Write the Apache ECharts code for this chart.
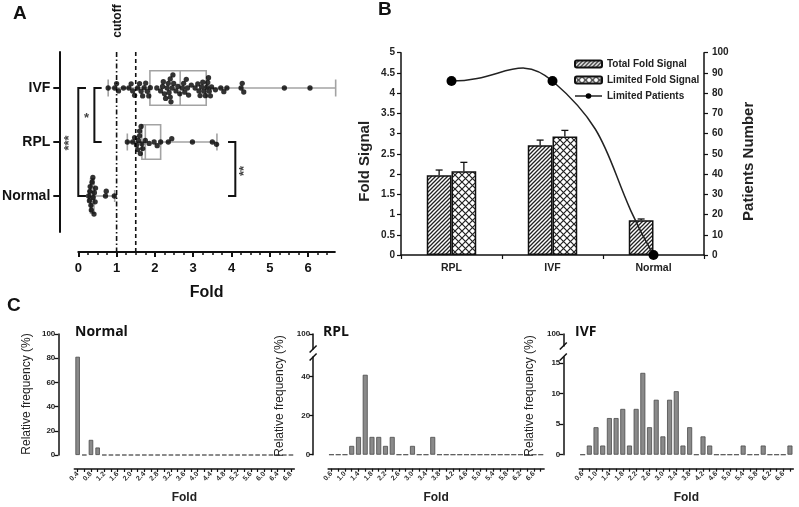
<!DOCTYPE html>
<html><head><meta charset="utf-8">
<script src="https://cdn.jsdelivr.net/npm/echarts@6/dist/echarts.min.js"></script>
<style>html,body{margin:0;padding:0;background:#fff}#c{width:799px;height:507px}</style>
</head><body><div id="c"></div>
<script>
// ---------- Panel A data ----------
const groupsA = ['Normal', 'RPL', 'IVF'];
const ivfFold = [0.78, 0.95, 1.0, 1.05, 1.18, 1.32, 1.38, 1.42, 1.47, 1.55, 1.6, 1.64, 1.68,
  1.72, 1.76, 1.8, 1.84, 1.88, 2.05, 2.15, 2.2, 2.22, 2.25, 2.28,
  2.32, 2.35, 2.37, 2.4, 2.4, 2.42, 2.45, 2.47, 2.49, 2.55, 2.6, 2.65,
  2.72, 2.75, 2.78, 2.82, 2.85, 2.88, 2.95, 3.05, 3.12, 3.15, 3.18, 3.22, 3.25, 3.28,
  3.32, 3.35, 3.38, 3.4, 3.42, 3.45, 3.48, 3.58, 3.72, 3.8, 3.88, 4.25, 4.28, 4.32,
  5.38, 6.05, 6.72];
const rplFold = [1.28, 1.42, 1.47, 1.52, 1.55, 1.57, 1.6, 1.6, 1.62, 1.64, 1.66, 1.68,
  1.75, 1.85, 1.98, 2.06, 2.15, 2.35, 2.44, 2.98, 3.5, 3.61];
const normalFold = [0.27, 0.29, 0.3, 0.31, 0.33, 0.34, 0.36, 0.38, 0.39, 0.41, 0.42, 0.44, 0.45,
  0.71, 0.73, 0.94];
// box statistics: [min, Q1, median, Q3, max]
const ivfBox = [0.78, 1.87, 2.66, 3.34, 6.72];
const rplBox = [1.28, 1.66, 1.75, 2.15, 3.62];
const normalBox = [0.27, 0.32, 0.36, 0.41, 0.95];
const foldTicksA = [0, 1, 2, 3, 4, 5, 6];
const cutoffValues = [1, 1.5];

// ---------- Panel B data ----------
const groupsB = ['RPL', 'IVF', 'Normal'];
const totalFold = [1.97, 2.71, 0.86];
const totalErr = [0.13, 0.13, 0.03];
const limitedFold = [2.07, 2.93, null];
const limitedErr = [0.22, 0.15, null];
const limitedPatients = [86, 86, 0];

// ---------- Panel C data ----------
const binsNormal = ['0.4','0.6','0.8','1.0','1.2','1.4','1.6','1.8','2.0','2.2','2.4','2.6','2.8','3.0','3.2','3.4','3.6','3.8','4.0','4.2','4.4','4.6','4.8','5.0','5.2','5.4','5.6','5.8','6.0','6.2','6.4','6.6','6.8'];
const binsRplIvf = ['0.6','0.8','1.0','1.2','1.4','1.6','1.8','2.0','2.2','2.4','2.6','2.8','3.0','3.2','3.4','3.6','3.8','4.0','4.2','4.4','4.6','4.8','5.0','5.2','5.4','5.6','5.8','6.0','6.2','6.4','6.6','6.8'];
const freqNormal = [81.2, 0, 12.5, 6.2, 0, 0, 0, 0, 0, 0, 0, 0, 0, 0, 0, 0, 0, 0, 0, 0, 0, 0, 0, 0, 0, 0, 0, 0, 0, 0, 0, 0, 0];
const freqRpl = [0, 0, 0, 4.5, 9.1, 40.9, 9.1, 9.1, 4.5, 9.1, 0, 0, 4.5, 0, 0, 9.1, 0, 0, 0, 0, 0, 0, 0, 0, 0, 0, 0, 0, 0, 0, 0, 0];
const freqIvf = [0, 1.5, 4.5, 1.5, 6.0, 6.0, 7.5, 1.5, 7.5, 13.4, 4.5, 9.0, 3.0, 9.0, 10.4, 1.5, 4.5, 0, 3.0, 1.5, 0, 0, 0, 0, 1.5, 0, 0, 1.5, 0, 0, 0, 1.5];

// ---------- helpers ----------
const FONT = '"Liberation Sans", Arial, sans-serif';
const INK = '#111';

function hatchPattern() {
  const s = 4, c = document.createElement('canvas');
  c.width = s; c.height = s;
  const g = c.getContext('2d');
  g.fillStyle = '#fff'; g.fillRect(0, 0, s, s);
  g.strokeStyle = '#222'; g.lineWidth = 1.3;
  g.beginPath();
  g.moveTo(-1, 1); g.lineTo(1, -1);
  g.moveTo(0, s); g.lineTo(s, 0);
  g.moveTo(s - 1, s + 1); g.lineTo(s + 1, s - 1);
  g.stroke();
  return c;
}
function crossPattern() {
  const s = 7, c = document.createElement('canvas');
  c.width = s; c.height = s;
  const g = c.getContext('2d');
  g.fillStyle = '#fff'; g.fillRect(0, 0, s, s);
  g.strokeStyle = '#222'; g.lineWidth = 1.2;
  g.beginPath();
  g.moveTo(0, 0); g.lineTo(s, s);
  g.moveTo(0, s); g.lineTo(s, 0);
  g.stroke();
  return c;
}

function cY(grid, min, max, ticks, offset) {
  return {type: 'value', gridIndex: grid, min: min, max: max, offset: offset, position: 'left',
    axisLine: {show: true, onZero: false, lineStyle: {color: INK, width: 1.5}},
    axisTick: {show: true, length: 4, customValues: ticks, lineStyle: {color: INK, width: 1.3}},
    axisLabel: {customValues: ticks, fontSize: 8, fontWeight: 'bold', color: '#222', margin: 3, fontFamily: FONT},
    splitLine: {show: false}};
}
function cX(grid, cats) {
  return {type: 'category', gridIndex: grid, data: cats, position: 'bottom', offset: 14,
    axisLine: {show: true, onZero: false, lineStyle: {color: INK, width: 1.5}},
    axisTick: {show: true, interval: 0, alignWithLabel: true, length: 3, lineStyle: {color: INK, width: 1.2}},
    axisLabel: {interval: 1, rotate: 45, fontSize: 7, fontWeight: 'bold', color: '#333', margin: 4, fontFamily: FONT},
    name: 'Fold', nameLocation: 'middle', nameGap: 23, nameMoveOverlap: false,
    nameTextStyle: {fontSize: 12, fontWeight: 'bold', color: '#222', fontFamily: FONT}};
}
function hiddenX(grid, cats) {
  return {type: 'category', gridIndex: grid, data: cats, show: false};
}
function txt(x, y, text, font, opts) {
  opts = opts || {};
  return {type: 'text', x: x, y: y, rotation: opts.rot || 0, z: 50,
    style: {text: text, font: font, fill: opts.fill || INK,
      textAlign: opts.align || 'center', align: opts.align || 'center',
      textVerticalAlign: 'middle', verticalAlign: 'middle'}};
}
function brk(x, y) {
  return {type: 'line', z: 50, shape: {x1: x - 3.5, y1: y + 3.5, x2: x + 3.5, y2: y - 3.5},
    style: {stroke: INK, lineWidth: 1.5}};
}

const chart = echarts.init(document.getElementById('c'));

const boxData = [[2].concat(ivfBox), [1].concat(rplBox), [0].concat(normalBox)];
const errData = [];
totalFold.forEach((v, i) => { if (v != null) errData.push([i, v, totalErr[i], -1]); });
limitedFold.forEach((v, i) => { if (v != null) errData.push([i, v, limitedErr[i], 1]); });

const SMOOTH = 0.5;

const option = {
  animation: false,
  backgroundColor: '#fff',
  textStyle: {fontFamily: FONT},
  grid: [
    {left: 78.3, top: 52, width: 256.6, height: 180, outerBoundsMode: 'none'},
    {left: 401, top: 52.7, width: 303, height: 202.3, outerBoundsMode: 'none'},
    {left: 74.3, top: 334, width: 220, height: 121, outerBoundsMode: 'none'},
    {left: 328.1, top: 357, width: 216, height: 97.7, outerBoundsMode: 'none'},
    {left: 328.1, top: 334, width: 216, height: 15, outerBoundsMode: 'none'},
    {left: 579.3, top: 357, width: 214, height: 97.7, outerBoundsMode: 'none'},
    {left: 579.3, top: 334, width: 214, height: 12, outerBoundsMode: 'none'}
  ],
  legend: {
    orient: 'vertical', left: 569, top: 54, itemWidth: 27, itemHeight: 7, itemGap: 6,
    selectedMode: false,
    textStyle: {fontSize: 10, fontWeight: 'bold', color: '#222', fontFamily: FONT},
    data: ['Total Fold Signal', 'Limited Fold Signal',
      {name: 'Limited Patients', lineStyle: {color: '#222', width: 1.5, opacity: 1}}]
  },
  xAxis: [
    {type: 'value', gridIndex: 0, min: 0, max: 6.7, interval: 1, position: 'bottom', offset: 20,
      axisLine: {show: true, onZero: false, lineStyle: {color: INK, width: 2}},
      axisTick: {show: true, customValues: foldTicksA, length: 5, lineStyle: {color: INK, width: 2}},
      minorTick: {show: true, splitNumber: 4, length: 3, lineStyle: {color: INK, width: 1.5}},
      axisLabel: {customValues: foldTicksA, fontSize: 13, fontWeight: 'bold', color: INK, margin: 10},
      splitLine: {show: false},
      name: 'Fold', nameLocation: 'middle', nameGap: 33, nameMoveOverlap: false,
      nameTextStyle: {fontSize: 16, fontWeight: 'bold', color: INK}},
    {type: 'value', gridIndex: 0, min: 0, max: 6.7, show: false},
    {type: 'category', gridIndex: 1, data: groupsB,
      axisLine: {show: true, lineStyle: {color: INK, width: 1.5}},
      axisTick: {show: true, length: 4, lineStyle: {color: INK, width: 1.2}},
      axisLabel: {fontSize: 10.5, fontWeight: 'bold', color: '#222', margin: 8}},
    cX(2, binsNormal),
    cX(3, binsRplIvf),
    hiddenX(4, binsRplIvf),
    cX(5, binsRplIvf),
    hiddenX(6, binsRplIvf)
  ],
  yAxis: [
    {type: 'value', gridIndex: 0, min: -2 / 3, max: 8 / 3, position: 'left', offset: 19,
      axisLine: {show: true, onZero: false, lineStyle: {color: INK, width: 2}},
      axisTick: {show: true, customValues: [0, 1, 2], length: 6, lineStyle: {color: INK, width: 2}},
      axisLabel: {customValues: [0, 1, 2], formatter: v => groupsA[Math.round(v)],
        fontSize: 14, fontWeight: 'bold', color: INK, margin: 9},
      splitLine: {show: false}},
    {type: 'value', gridIndex: 1, min: 0, max: 5, interval: 0.5, position: 'left',
      axisLine: {show: true, onZero: false, lineStyle: {color: INK, width: 1.5}},
      axisTick: {show: true, length: 4, lineStyle: {color: INK, width: 1.2}},
      axisLabel: {fontSize: 10, fontWeight: 'bold', color: '#222', margin: 6},
      splitLine: {show: false},
      name: 'Fold Signal', nameLocation: 'middle', nameGap: 29, nameMoveOverlap: false,
      nameTextStyle: {fontSize: 15, fontWeight: 'bold', color: '#222', padding: [0, 15, 0, 0]}},
    {type: 'value', gridIndex: 1, min: 0, max: 100, interval: 10, position: 'right',
      axisLine: {show: true, onZero: false, lineStyle: {color: INK, width: 1.5}},
      axisTick: {show: true, length: 4, lineStyle: {color: INK, width: 1.2}},
      axisLabel: {fontSize: 10, fontWeight: 'bold', color: '#222', margin: 8},
      splitLine: {show: false},
      name: 'Patients Number', nameLocation: 'middle', nameGap: 37, nameMoveOverlap: false,
      nameTextStyle: {fontSize: 15, fontWeight: 'bold', color: '#222', padding: [0, 15, 0, 0]}},
    cY(2, 0, 100, [0, 20, 40, 60, 80, 100], 16),
    cY(3, 0, 50, [0, 20, 40], 15),
    cY(4, 90, 100, [100], 15),
    cY(5, 0, 16, [0, 5, 10, 15], 16),
    cY(6, 90, 100, [100], 16)
  ],
  series: [
    // Panel A: box plots
    {type: 'custom', xAxisIndex: 0, yAxisIndex: 0, z: 2, data: boxData,
      renderItem: function (params, api) {
        const y = api.value(0);
        const p = [1, 2, 3, 4, 5].map(k => api.coord([api.value(k), y]));
        const st = {stroke: '#a3a3a3', lineWidth: 1.6, fill: 'none'};
        const h = 17.3, cap = y === 0 ? 6 : 8.5;
        return {type: 'group', children: [
          {type: 'line', shape: {x1: p[0][0], y1: p[0][1], x2: p[1][0], y2: p[1][1]}, style: st},
          {type: 'line', shape: {x1: p[3][0], y1: p[3][1], x2: p[4][0], y2: p[4][1]}, style: st},
          {type: 'line', shape: {x1: p[0][0], y1: p[0][1] - cap, x2: p[0][0], y2: p[0][1] + cap}, style: st},
          {type: 'line', shape: {x1: p[4][0], y1: p[4][1] - cap, x2: p[4][0], y2: p[4][1] + cap}, style: st},
          {type: 'rect', shape: {x: p[1][0], y: p[1][1] - h, width: p[3][0] - p[1][0], height: 2 * h}, style: st},
          {type: 'line', shape: {x1: p[2][0], y1: p[2][1] - h, x2: p[2][0], y2: p[2][1] + h}, style: st}
        ]};
      }},
    // Panel A: dots (filled after layout)
    {id: 'dots', type: 'scatter', xAxisIndex: 0, yAxisIndex: 0, z: 3, symbolSize: 5.3,
      itemStyle: {color: '#000'}, data: []},
    // Panel A: cutoff lines
    {type: 'custom', xAxisIndex: 0, yAxisIndex: 0, z: 1, data: cutoffValues.map(v => [v, 0]),
      renderItem: function (params, api) {
        const top = api.coord([api.value(0), 8 / 3]);
        const bot = api.coord([api.value(0), -2 / 3]);
        return {type: 'line', shape: {x1: top[0], y1: top[1], x2: bot[0], y2: bot[1] + 20},
          style: {stroke: INK, lineWidth: 1.6,
            lineDash: params.dataIndex === 0 ? [5, 2.5, 1.5, 2.5] : [4, 3]}};
      }},
    // Panel A: significance brackets
    {type: 'custom', xAxisIndex: 0, yAxisIndex: 0, z: 4,
      data: [[0, 0, 2, 0.2], [0.42, 1, 2, 0.19], [4.1, 0, 1, -0.19]],
      renderItem: function (params, api) {
        const x = api.value(0), y1 = api.value(1), y2 = api.value(2), dx = api.value(3);
        const a = api.coord([x + dx, y1]), b = api.coord([x, y1]), c = api.coord([x, y2]), d = api.coord([x + dx, y2]);
        return {type: 'polyline', shape: {points: [a, b, c, d]},
          style: {stroke: INK, lineWidth: 2, fill: 'none'}};
      }},
    // Panel B
    {type: 'bar', name: 'Total Fold Signal', xAxisIndex: 2, yAxisIndex: 1, data: totalFold,
      barWidth: '24.5%', barGap: '0%',
      itemStyle: {color: {image: hatchPattern(), repeat: 'repeat'}, borderColor: INK, borderWidth: 1.5}},
    {type: 'bar', name: 'Limited Fold Signal', xAxisIndex: 2, yAxisIndex: 1,
      data: limitedFold.map(v => v == null ? '-' : v),
      barWidth: '24.5%', barGap: '0%',
      itemStyle: {color: {image: crossPattern(), repeat: 'repeat'}, borderColor: INK, borderWidth: 1.5}},
    {type: 'custom', xAxisIndex: 2, yAxisIndex: 1, z: 5, data: errData,
      renderItem: function (params, api) {
        const i = api.value(0), v = api.value(1), e = api.value(2), side = api.value(3);
        const bw = api.size([1, 0])[0];
        const off = side * bw * 0.245 / 2;
        const base = api.coord([i, v]), top = api.coord([i, v + e]);
        const x = base[0] + off;
        const st = {stroke: INK, lineWidth: 1.3};
        return {type: 'group', children: [
          {type: 'line', shape: {x1: x, y1: base[1], x2: x, y2: top[1]}, style: st},
          {type: 'line', shape: {x1: x - 3.5, y1: top[1], x2: x + 3.5, y2: top[1]}, style: st}
        ]};
      }},
    // Panel B: unclamped spline through the patient counts
    {type: 'custom', xAxisIndex: 2, yAxisIndex: 2, z: 5,
      data: limitedPatients.map((v, i) => [i, v]),
      renderItem: function (params, api) {
        const n = limitedPatients.length, i = params.dataIndex;
        if (i >= n - 1) return null;
        const P = j => api.coord([j, limitedPatients[j]]);
        const cps = j => {
          const p = P(j), prev = j > 0 ? P(j - 1) : p, next = j < n - 1 ? P(j + 1) : p;
          const vx = next[0] - prev[0], vy = next[1] - prev[1];
          const l0 = Math.hypot(p[0] - prev[0], p[1] - prev[1]);
          const l1 = Math.hypot(next[0] - p[0], next[1] - p[1]);
          const r = (l0 + l1) > 0 ? l1 / (l0 + l1) : 0.5;
          return [[p[0] - vx * SMOOTH * (1 - r), p[1] - vy * SMOOTH * (1 - r)],
                  [p[0] + vx * SMOOTH * r, p[1] + vy * SMOOTH * r]];
        };
        const a = P(i), b = P(i + 1), c1 = cps(i)[1], c2 = cps(i + 1)[0];
        return {type: 'bezierCurve',
          shape: {x1: a[0], y1: a[1], x2: b[0], y2: b[1], cpx1: c1[0], cpy1: c1[1], cpx2: c2[0], cpy2: c2[1]},
          style: {stroke: '#222', lineWidth: 1.5, fill: 'none'}};
      }},
    {type: 'line', name: 'Limited Patients', xAxisIndex: 2, yAxisIndex: 2, data: limitedPatients,
      symbol: 'circle', symbolSize: 10, z: 6,
      lineStyle: {color: '#222', width: 1.5, opacity: 0}, itemStyle: {color: '#000'}},
    // Panel C
    {type: 'bar', xAxisIndex: 3, yAxisIndex: 3, data: freqNormal, barWidth: 4.5,
      itemStyle: {color: '#8a8a8a', borderColor: '#4a4a4a', borderWidth: 0.8}},
    {type: 'bar', xAxisIndex: 4, yAxisIndex: 4, data: freqRpl, barWidth: 5,
      itemStyle: {color: '#8a8a8a', borderColor: '#4a4a4a', borderWidth: 0.8}},
    {type: 'bar', xAxisIndex: 6, yAxisIndex: 6, data: freqIvf, barWidth: 5,
      itemStyle: {color: '#8a8a8a', borderColor: '#4a4a4a', borderWidth: 0.8}}
  ],
  graphic: [
    txt(13, 14, 'A', 'bold 19px ' + FONT, {align: 'left'}),
    txt(378, 10, 'B', 'bold 19px ' + FONT, {align: 'left'}),
    txt(7, 306, 'C', 'bold 19px ' + FONT, {align: 'left'}),
    txt(118, 21, 'cutoff', 'bold 12px ' + FONT, {rot: Math.PI / 2}),
    txt(69.5, 143, '***', 'bold 13px ' + FONT, {rot: Math.PI / 2, fill: '#444'}),
    txt(86.5, 118, '*', 'bold 13px ' + FONT, {fill: '#444'}),
    txt(244.5, 171, '**', 'bold 13px ' + FONT, {rot: Math.PI / 2, fill: '#444'}),
    txt(75, 332, 'Normal', 'bold 14px "Open Sans", sans-serif', {align: 'left'}),
    txt(323, 332, 'RPL', 'bold 14px "Open Sans", sans-serif', {align: 'left'}),
    txt(575, 332, 'IVF', 'bold 14px "Open Sans", sans-serif', {align: 'left'}),
    txt(27, 394, 'Relative frequency (%)', '12px ' + FONT, {rot: Math.PI / 2, fill: '#222'}),
    txt(280, 396, 'Relative frequency (%)', '12px ' + FONT, {rot: Math.PI / 2, fill: '#222'}),
    txt(530, 396, 'Relative frequency (%)', '12px ' + FONT, {rot: Math.PI / 2, fill: '#222'}),
    brk(313.1, 349), brk(313.1, 357),
    brk(563.3, 346), brk(563.3, 357)
  ]
};
chart.setOption(option);

// Beeswarm placement using the chart's own scales
const o = chart.convertToPixel({xAxisIndex: 0, yAxisIndex: 0}, [0, 0]);
const u = chart.convertToPixel({xAxisIndex: 0, yAxisIndex: 0}, [1, 1]);
const sx = u[0] - o[0], sy = o[1] - u[1];
function swarm(values, base) {
  const d = 4.8, placed = [], out = [];
  values.slice().sort((a, b) => a - b).forEach((v, idx) => {
    const x = v * sx;
    const cand = [0];
    placed.forEach(p => {
      const dx = Math.abs(p.x - x);
      if (dx < d) { const dy = Math.sqrt(d * d - dx * dx); cand.push(p.y + dy, p.y - dy); }
    });
    cand.sort((a, b) => (Math.abs(a) - Math.abs(b)) || (idx % 2 ? a - b : b - a));
    let best = 0;
    for (const cy of cand) {
      let ok = true;
      for (const p of placed) {
        const ddx = p.x - x, ddy = p.y - cy;
        if (ddx * ddx + ddy * ddy < d * d - 1e-6) { ok = false; break; }
      }
      if (ok) { best = cy; break; }
    }
    placed.push({x: x, y: best});
    out.push([v, base + best / sy]);
  });
  return out;
}
const dots = swarm(normalFold, 0).concat(swarm(rplFold, 1), swarm(ivfFold, 2));
chart.setOption({series: [{id: 'dots', data: dots}]});
</script>
</body></html>
